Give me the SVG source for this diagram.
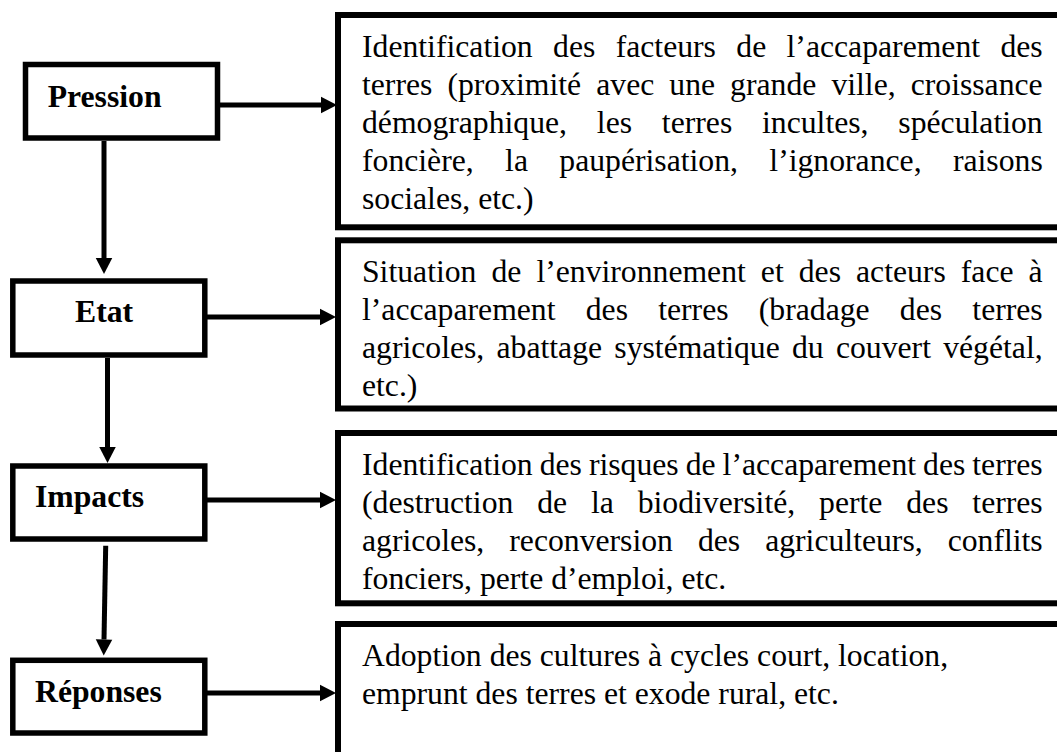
<svg xmlns="http://www.w3.org/2000/svg" width="1057" height="752" viewBox="0 0 1057 752">
<style>
.lbox{fill:#fff;stroke:#000;stroke-width:5.5}
.rbox{fill:#fff;stroke:#000;stroke-width:6}
.lbl{font-family:'Liberation Serif','Times New Roman',serif;font-weight:bold;font-size:31.7px;fill:#000}
.txt{font-family:'Liberation Serif','Times New Roman',serif;font-size:31.7px;fill:#000}
.con{stroke:#000;stroke-width:5;fill:none;marker-end:url(#ah)}
</style>
<defs>
<marker id="ah" markerUnits="userSpaceOnUse" markerWidth="17" markerHeight="17" refX="0" refY="8.25" orient="auto" overflow="visible">
<path d="M0,0 L16,8.25 L0,16.5 Z" fill="#000"/>
</marker>
</defs>
<rect width="1057" height="752" fill="#fff"/>
<g id="connectors">
<line class="con" x1="220" y1="105" x2="321" y2="105"/>
<line class="con" x1="207" y1="317" x2="320" y2="317"/>
<line class="con" x1="207" y1="500" x2="320" y2="500"/>
<line class="con" x1="207" y1="693" x2="320" y2="693"/>
<line class="con" x1="104" y1="141" x2="104" y2="258"/>
<line class="con" x1="107.5" y1="358" x2="107.5" y2="447"/>
<line class="con" x1="105.7" y1="545.7" x2="104" y2="639.5"/>
</g>
<g id="pression">
<rect class="lbox" x="25.5" y="64.5" width="192" height="73.5"/>
<text class="lbl" x="47.7" y="106.7">Pression</text>
</g>
<g id="etat">
<rect class="lbox" x="12.8" y="281" width="192" height="74"/>
<text class="lbl" x="75" y="322.3">Etat</text>
</g>
<g id="impacts">
<rect class="lbox" x="12.8" y="466" width="192" height="73"/>
<text class="lbl" x="35" y="506.7">Impacts</text>
</g>
<g id="reponses">
<rect class="lbox" x="12.8" y="660.3" width="192" height="72.7"/>
<text class="lbl" x="35" y="701.7">Réponses</text>
</g>
<g id="box-pression">
<rect class="rbox" x="338" y="15" width="740" height="212.3"/>
<text class="txt" x="362" y="57" style="word-spacing:12.44px">Identification des facteurs de l’accaparement des</text>
<text class="txt" x="362" y="95" style="word-spacing:7.13px">terres (proximité avec une grande ville, croissance</text>
<text class="txt" x="362" y="133" style="word-spacing:21.9px">démographique, les terres incultes, spéculation</text>
<text class="txt" x="362" y="171" style="word-spacing:23.46px">foncière, la paupérisation, l’ignorance, raisons</text>
<text class="txt" x="362" y="209">sociales, etc.)</text>
</g>
<g id="box-etat">
<rect class="rbox" x="338" y="240.3" width="740" height="168.2"/>
<text class="txt" x="362" y="282" style="word-spacing:7.11px">Situation de l’environnement et des acteurs face à</text>
<text class="txt" x="362" y="320" style="word-spacing:22.31px">l’accaparement des terres (bradage des terres</text>
<text class="txt" x="362" y="358" style="word-spacing:4.32px">agricoles, abattage systématique du couvert végétal,</text>
<text class="txt" x="362" y="396">etc.)</text>
</g>
<g id="box-impacts">
<rect class="rbox" x="338" y="433" width="740" height="170.3"/>
<text class="txt" x="362" y="475" style="word-spacing:-0.93px">Identification des risques de l’accaparement des terres</text>
<text class="txt" x="362" y="513" style="word-spacing:15.93px">(destruction de la biodiversité, perte des terres</text>
<text class="txt" x="362" y="551" style="word-spacing:17.07px">agricoles, reconversion des agriculteurs, conflits</text>
<text class="txt" x="362" y="589">fonciers, perte d’emploi, etc.</text>
</g>
<g id="box-reponses">
<rect class="rbox" x="338" y="624" width="740" height="200"/>
<text class="txt" x="362" y="666">Adoption des cultures à cycles court, location,</text>
<text class="txt" x="362" y="704">emprunt des terres et exode rural, etc.</text>
</g>
</svg>
